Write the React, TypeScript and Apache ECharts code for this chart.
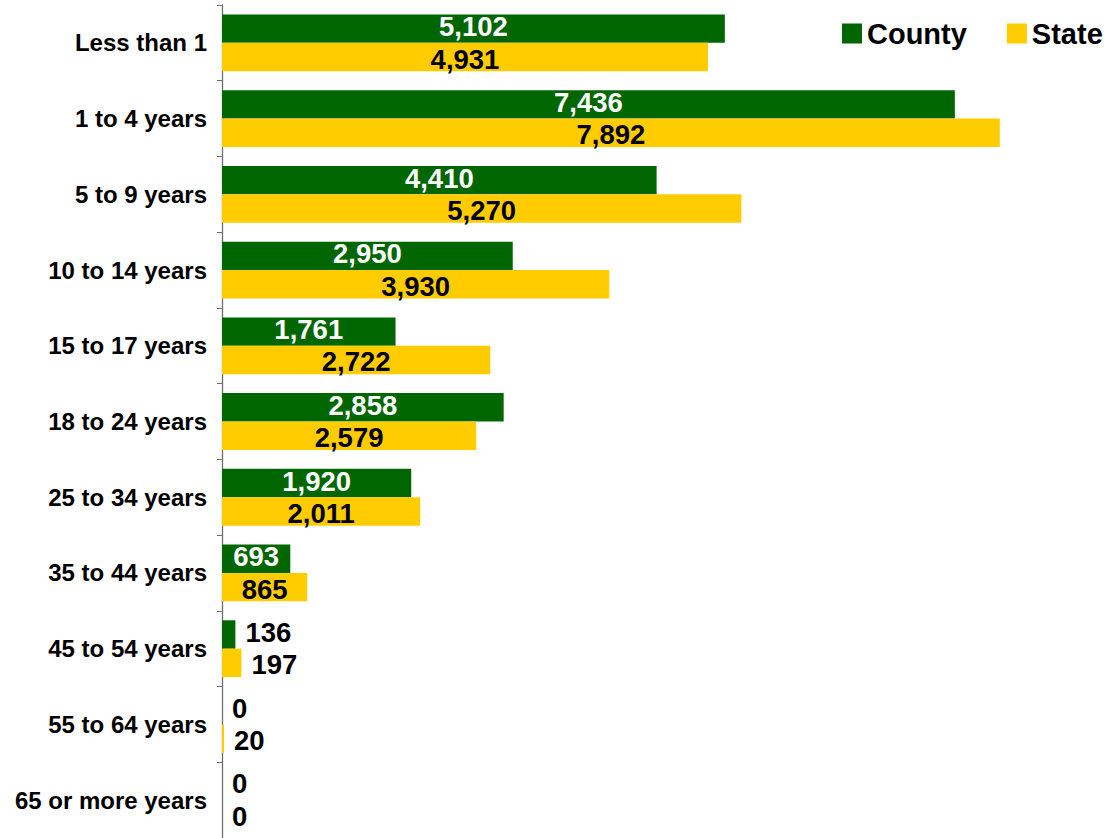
import React, { useEffect, useRef } from "react";
import * as echarts from "echarts";

const categories = [
  "Less than 1",
  "1 to 4 years",
  "5 to 9 years",
  "10 to 14 years",
  "15 to 17 years",
  "18 to 24 years",
  "25 to 34 years",
  "35 to 44 years",
  "45 to 54 years",
  "55 to 64 years",
  "65 or more years",
];
const countyValues = [5102, 7436, 4410, 2950, 1761, 2858, 1920, 693, 136, 0, 0];
const stateValues = [4931, 7892, 5270, 3930, 2722, 2579, 2011, 865, 197, 20, 0];

const FONT = "'Liberation Sans', Arial, Helvetica, sans-serif";
const GREEN = "#006600";
const YELLOW = "#FFCC00";
const OUTSIDE_BELOW = 300;

function toData(values: number[], insideColor: string, dy: number) {
  return values.map((v) =>
    v < OUTSIDE_BELOW
      ? { value: v, label: { position: "right", distance: 10, color: "#000", offset: [0, dy] } }
      : { value: v, label: { position: "inside", color: insideColor, offset: [0, dy] } }
  );
}

export default function App() {
  const ref = useRef<HTMLDivElement>(null);
  useEffect(() => {
    if (!ref.current) return;
    const chart = echarts.init(ref.current, null, { renderer: "svg" });
    const labelBase = {
      show: true,
      fontFamily: FONT,
      fontWeight: "bold",
      fontSize: 27.5,
      lineHeight: 27,
      formatter: (p: any) => Number(p.value).toLocaleString("en-US"),
    };
    chart.setOption({
      animation: false,
      textStyle: { fontFamily: FONT },
      legend: {
        left: 842,
        top: 19,
        padding: 0,
        itemWidth: 20,
        itemHeight: 20,
        itemGap: 40,
        icon: "rect",
        textStyle: { fontFamily: FONT, fontWeight: "bold", fontSize: 29, color: "#000" },
        data: ["County", "State"],
      },
      grid: { left: 222, right: 0, top: 5, height: 835, containLabel: false },
      xAxis: { type: "value", min: 0, max: 9000, show: false },
      yAxis: {
        type: "category",
        inverse: true,
        data: categories,
        axisLine: { show: true, lineStyle: { color: "#6f6f6f", width: 1.3 } },
        axisTick: { show: true, length: 5, lineStyle: { color: "#6f6f6f" } },
        axisLabel: {
          margin: 15,
          fontFamily: FONT,
          fontWeight: "bold",
          fontSize: 24,
          color: "#000",
        },
      },
      series: [
        {
          name: "County",
          type: "bar",
          data: toData(countyValues, "#fff", -2),
          itemStyle: { color: GREEN },
          barGap: "0%",
          barCategoryGap: "25%",
          label: { ...labelBase },
        },
        {
          name: "State",
          type: "bar",
          data: toData(stateValues, "#000", 2),
          itemStyle: { color: YELLOW },
          barGap: "0%",
          barCategoryGap: "25%",
          label: { ...labelBase },
        },
      ],
    });
    return () => chart.dispose();
  }, []);
  return <div ref={ref} style={{ width: 1109, height: 838, position: "absolute", left: 0, top: 0 }} />;
}
